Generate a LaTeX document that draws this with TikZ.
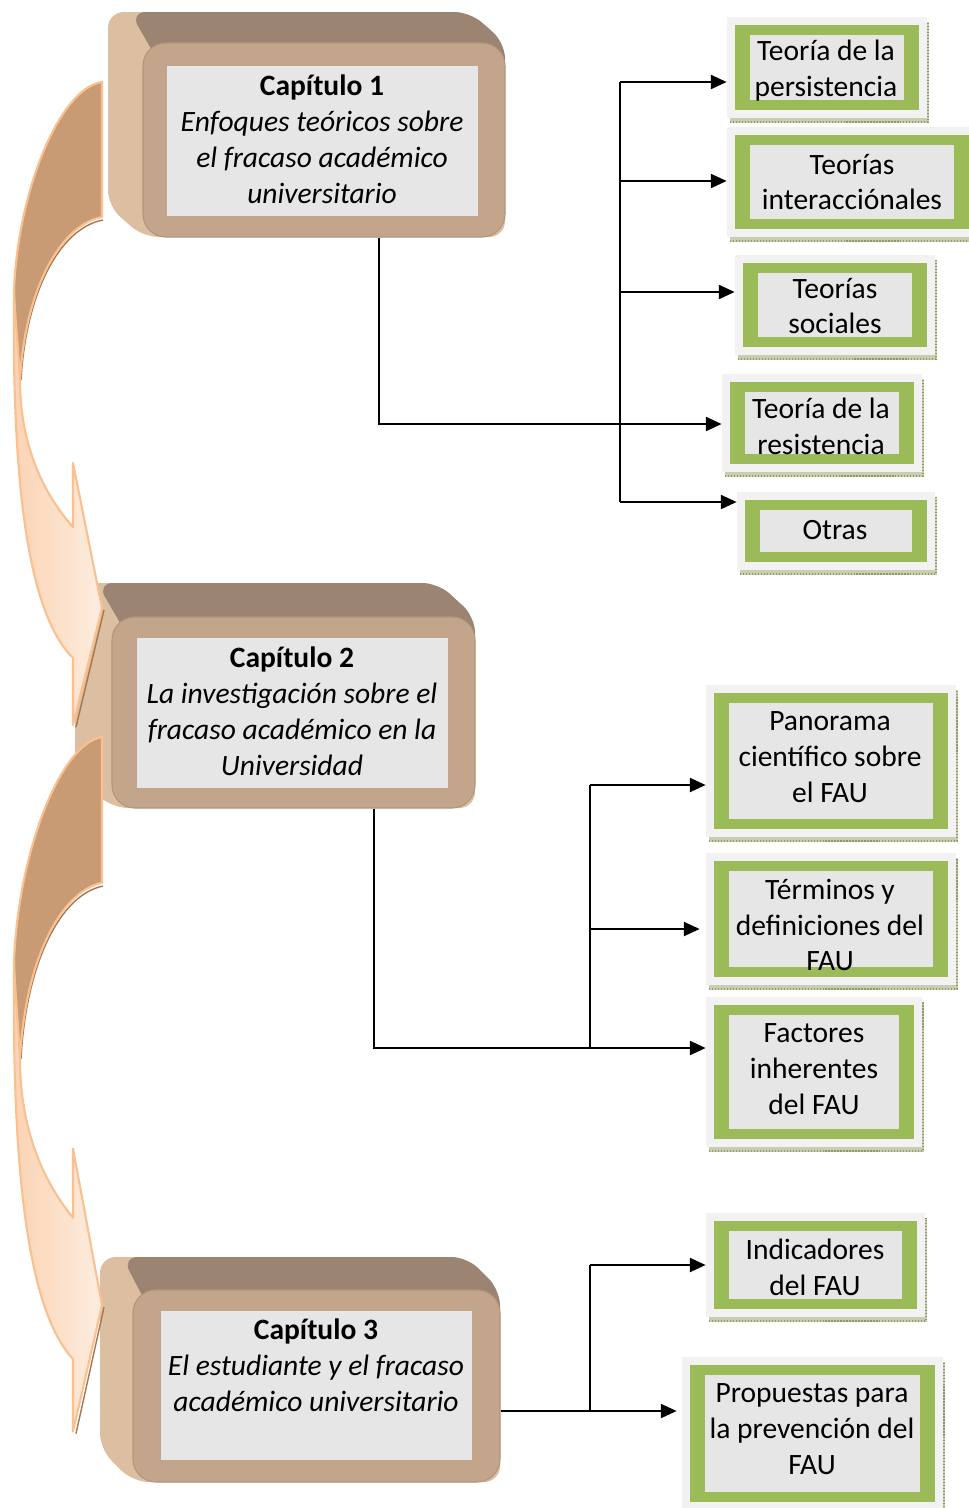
\documentclass[tikz,border=0pt]{standalone}
\usepackage{fontspec}
\setmainfont{Carlito}
\usetikzlibrary{arrows.meta,fit,calc}
\definecolor{gfill}{HTML}{9BBB59}
\definecolor{gin}{HTML}{E6E6E6}
\definecolor{gframe}{HTML}{F2F2F2}
\definecolor{gshadow}{HTML}{C9CEB0}
\definecolor{gshadowd}{HTML}{8C9868}
\definecolor{cfront}{HTML}{C2A58B}
\definecolor{cfrontd}{HTML}{B39679}
\definecolor{ctop}{HTML}{9C8472}
\definecolor{cleft}{HTML}{DCBEA1}
\definecolor{adark}{HTML}{C99B74}
\definecolor{aedge}{HTML}{FAC08F}
\definecolor{ashadow}{HTML}{A8764E}
\definecolor{alight1}{HTML}{FBD3B3}
\definecolor{alight2}{HTML}{FDEDE0}

\tikzset{
  txt/.style={align=center, inner sep=0pt, font=\fontsize{16.8}{20.4}\selectfont},
  conn/.style={line width=1.1pt, black},
  arr/.style={conn, -{Triangle[length=9pt,width=8pt]}},
}

% green box: name, xL, yT, xR, yB, tx, ty, text
\newcommand{\gbox}[8]{%
  \fill[gshadow] (#2+3,#3+5) rectangle (#4+2,#5+5);
  \draw[gshadowd, densely dotted, line width=0.7pt] (#2+3,#5+4) -- (#4+1,#5+4) -- (#4+1,#3+5);
  \fill[gframe] (#2,#3) rectangle (#4,#5);
  \fill[gfill] (#2+8,#3+8) rectangle (#4-8,#5-8);
  \fill[gin] (#2+23,#3+18) rectangle (#4-23,#5-18);
  \node[fit={(#2,#3) (#4,#5)}, inner sep=0pt] (#1) {};
  \node[txt] (#1t) at (#6,#7) {#8};
}

% chapter box: name, fx, fy, fr, fb, dx, dy
\newcommand{\chbox}[7]{%
  \fill[cleft, rounded corners=9pt] (#2-#6,#3-#7) -- (#4-#6,#3-#7) -- (#4,#3) -- (#4,#5) -- (#2,#5) -- (#2-#6,#5-#7) -- cycle;
  \fill[ctop, rounded corners=9pt] (#2-#6+22,#3-#7) -- (#4-#6,#3-#7) -- (#4,#3) -- (#4,#3+30) -- (#2+22,#3+30) -- cycle;
  \node[fit={(#2,#3) (#4,#5)}, inner sep=0pt, fill=cfront, draw=cfrontd, line width=0.6pt, rounded corners=13pt] (#1) {};
}

% curved arrow: top y, yscale
\newcommand{\curvarrow}[2]{%
\begin{scope}[shift={(0,#1)}, yscale=#2]
  \fill[adark] (102,0) .. controls (60,6) and (18,108) .. (14,208)
     .. controls (12,388) and (25,528) .. (73,576) -- (73,643) -- (102,526) -- (73,381) -- (73,445)
     .. controls (40,408) and (20,358) .. (20,298)
     .. controls (25,208) and (60,143) .. (102,135) -- cycle;
  \draw[ashadow, line width=0.8pt] (21,298) .. controls (26,210) and (60,146) .. (103,138);
  \shade[left color=alight1, right color=alight2] (14,208)
     .. controls (12,388) and (25,528) .. (73,576) -- (73,643) -- (102,526) -- (73,381) -- (73,445)
     .. controls (40,408) and (20,358) .. (20,298) .. controls (18,262) and (15,236) .. (14,208) -- cycle;
  \draw[ashadow, line width=0.8pt] (104,528) -- (76,645);
  \draw[aedge, line width=1.2pt, line join=round] (102,0) .. controls (60,6) and (18,108) .. (14,208)
     .. controls (12,388) and (25,528) .. (73,576) -- (73,643) -- (102,526) -- (73,381) -- (73,445)
     .. controls (40,408) and (20,358) .. (20,298)
     .. controls (25,208) and (60,143) .. (102,135) -- cycle;
  \draw[aedge, line width=1.2pt] (20,298) .. controls (18,262) and (15,236) .. (14,208);
\end{scope}}

\begin{document}
\begin{tikzpicture}[x=0.02cm, y=-0.02cm]
\useasboundingbox (0,0) rectangle (969,1508);

% chapter boxes
\chbox{c1}{143}{43}{505}{237}{35}{31}
\fill[gin] (167,66) rectangle (478,216);
\node[txt] (c1t) at (322,139) {\textbf{Capítulo 1}\\\textit{Enfoques teóricos sobre}\\\textit{el fracaso académico}\\\textit{universitario}};

\chbox{c2}{112}{617}{475}{808}{37}{34}
\fill[gin] (137,638) rectangle (448,788);
\node[txt] (c2t) at (292,711) {\textbf{Capítulo 2}\\\textit{La investigación sobre el}\\\textit{fracaso académico en la}\\\textit{Universidad}};

\chbox{c3}{133}{1290}{500}{1482}{33}{33}
\fill[gin] (161,1311) rectangle (472,1460);
\node[txt] (c3t) at (316,1365) {\textbf{Capítulo 3}\\\textit{El estudiante y el fracaso}\\\textit{académico universitario}};

% curved arrows
\curvarrow{82}{1}
\curvarrow{737}{1.08}

% green boxes
\gbox{b1}{727}{17}{927}{118}{826}{71}{Teoría de la\\persistencia}
\gbox{b2}{727}{127}{977}{237}{852}{182}{Teorías\\interacciónales}
\gbox{b3}{735}{255}{935}{355}{835}{306}{Teorías\\sociales}
\gbox{b4}{722}{374}{922}{472}{821}{426}{Teoría de la\\resistencia}
\gbox{b5}{737}{492}{935}{570}{835}{530}{Otras}
\gbox{b6}{706}{685}{956}{837}{830}{757}{Panorama\\científico sobre\\el FAU}
\gbox{b7}{706}{853}{956}{985}{830}{925}{Términos y\\definiciones del\\FAU}
\gbox{b8}{706}{997}{922}{1147}{814}{1069}{Factores\\inherentes\\del FAU}
\gbox{b9}{706}{1213}{925}{1317}{815}{1267}{Indicadores\\del FAU}
\gbox{b10}{682}{1357}{943}{1510}{812}{1429}{Propuestas para\\la prevención del\\FAU}

% connectors chapter 1
\coordinate (k1) at (379,424);
\coordinate (t1) at (620,82);
\coordinate (t2) at (620,181);
\coordinate (t3) at (620,292);
\coordinate (t5) at (620,502);
\draw[conn] (t1) -- (t5);
\draw[arr] (c1.south -| k1) -- (k1) -- (k1 -| b4.west);
\draw[arr] (t1) -- (t1 -| b1.west);
\draw[arr] (t2) -- (t2 -| b2.west);
\draw[arr] (t3) -- (t3 -| b3.west);
\draw[arr] (t5) -- (t5 -| b5.west);

% connectors chapter 2
\coordinate (k2) at (374,1048);
\coordinate (u1) at (590,785);
\coordinate (u2) at (590,929);
\coordinate (u3) at (590,1048);
\draw[conn] (u1) -- (u3);
\draw[arr] (c2.south -| k2) -- (k2) -- (k2 -| b8.west);
\draw[arr] (u1) -- (u1 -| b6.west);
\draw[arr] (u2) -- ([xshift=-0.12cm]u2 -| b7.west);

% connectors chapter 3
\coordinate (v1) at (590,1265);
\coordinate (v2) at (590,1411);
\draw[conn] (v1) -- (v2);
\draw[arr] (c3.east |- v2) -- ([xshift=-0.1cm]v2 -| b10.west);
\draw[arr] (v1) -- (v1 -| b9.west);
\end{tikzpicture}
\end{document}
